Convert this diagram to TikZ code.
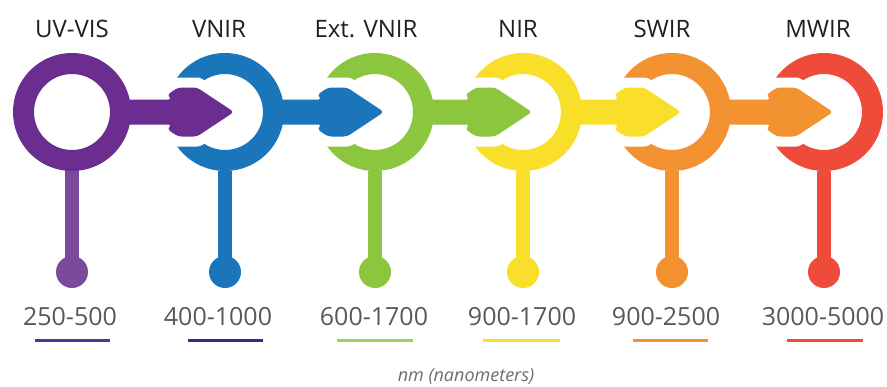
\documentclass[tikz,border=0pt]{standalone}
\usepackage{fontspec}
\setmainfont{Open Sans}
\usetikzlibrary{calc}
\definecolor{cpurple}{HTML}{6B2D8F}
\definecolor{cpurplel}{HTML}{7C4A9D}
\definecolor{cblue}{HTML}{1B75BB}
\definecolor{cgreen}{HTML}{8CC63F}
\definecolor{cyellow}{HTML}{F9DF2A}
\definecolor{corange}{HTML}{F39231}
\definecolor{cred}{HTML}{EE4B3B}
\definecolor{cnavy}{HTML}{2E3088}
\definecolor{cindigo}{HTML}{3E3D9C}
\definecolor{ctext}{HTML}{231F20}
\definecolor{cgray}{HTML}{58595B}
\definecolor{cgraytwo}{HTML}{6D6E71}
\begin{document}
\begin{tikzpicture}[x=1pt,y=-1pt,
  ring/.style={circle, draw=#1, line width=21pt, minimum size=97pt, inner sep=0pt},
  stem/.style={draw=#1, line width=14pt},
  ball/.style={circle, fill=#1, minimum size=32pt, inner sep=0pt},
  lbl/.style={anchor=base, text=ctext, font=\fontsize{24}{28}\selectfont},
  rng/.style={anchor=base, text=cgray, font=\fontsize{25}{30}\selectfont},
  uline/.style={draw=#1, line width=3pt},
  headgap/.style={fill=white, draw=white, line width=20pt, line join=round},
  arrowbody/.style={fill=#1, rounded corners=3.5pt}]
\useasboundingbox (0,0) rectangle (887,386);
\fill[white] (0,0) rectangle (887,386);

% circles
\node[ring=cpurple] (c1) at (72,112) {};
\node[ring=cblue]   (c2) at (225,112) {};
\node[ring=cgreen]  (c3) at (375,112) {};
\node[ring=cyellow] (c4) at (523,112) {};
\node[ring=corange] (c5) at (672,112) {};
\node[ring=cred]    (c6) at (824,112) {};

% balls
\node[ball=cpurplel] (b1) at (72,272) {};
\node[ball=cblue]    (b2) at (225,272) {};
\node[ball=cgreen]   (b3) at (375,272) {};
\node[ball=cyellow]  (b4) at (523,272) {};
\node[ball=corange]  (b5) at (672,272) {};
\node[ball=cred]     (b6) at (824,272) {};

% stems
\draw[stem=cpurplel] (c1.south) -- (b1.center);
\draw[stem=cblue]    (c2.south) -- (b2.center);
\draw[stem=cgreen]   (c3.south) -- (b3.center);
\draw[stem=cyellow]  (c4.south) -- (b4.center);
\draw[stem=corange]  (c5.south) -- (b5.center);
\draw[stem=cred]     (c6.south) -- (b6.center);
\fill[cpurple] (c1.center) ++(-7,47) rectangle ++(14,12);

% arrows
\foreach \a/\b/\col in {c1/c2/cpurple, c2/c3/cblue, c3/c4/cgreen, c4/c5/cyellow, c5/c6/corange}{
  \path[headgap] ($(\b.center)+(-53,-12.5)$) -- ($(\b.center)+(-58,-17)$) -- ($(\b.center)+(-47,-24.5)$) -- ($(\b.center)+(-28,-24.5)$)
     -- ($(\b.center)+(9,0)$) -- ($(\b.center)+(-28,24.5)$) -- ($(\b.center)+(-47,24.5)$) -- ($(\b.center)+(-58,17)$)
     -- ($(\b.center)+(-53,12.5)$) -- cycle;
  \path[arrowbody=\col] ($(\a.center)+(40,-12.5)$) -- ($(\b.center)+(-53,-12.5)$) -- ($(\b.center)+(-58,-17)$) -- ($(\b.center)+(-47,-24.5)$) -- ($(\b.center)+(-28,-24.5)$)
     -- ($(\b.center)+(9,0)$) -- ($(\b.center)+(-28,24.5)$) -- ($(\b.center)+(-47,24.5)$) -- ($(\b.center)+(-58,17)$)
     -- ($(\b.center)+(-53,12.5)$) -- ($(\a.center)+(40,12.5)$) -- cycle;
}

% top labels
\node[lbl] (l1) at (72,37)  {UV-VIS};
\node[lbl] (l2) at (219,37) {VNIR};
\node[lbl] (l3) at (366,37) {Ext. VNIR};
\node[lbl] (l4) at (518,37) {NIR};
\node[lbl] (l5) at (662,37) {SWIR};
\node[lbl] (l6) at (818,37) {MWIR};

% ranges
\node[rng] (r1) at (70,325)  {250-500};
\node[rng] (r2) at (218,325) {400-1000};
\node[rng] (r3) at (374,325) {600-1700};
\node[rng] (r4) at (522,325) {900-1700};
\node[rng] (r5) at (666,325) {900-2500};
\node[rng] (r6) at (823,325) {3000-5000};

% underlines
\draw[uline=cindigo] (35,340) -- (110,340);
\draw[uline=cnavy]   (188,340) -- (263,340);
\draw[uline=cgreen!85!white] (337,340) -- (413,340);
\draw[uline=cyellow] (483,340) -- (560,340);
\draw[uline=corange] (633,340) -- (708,340);
\draw[uline=cred]    (787,340) -- (863,340);

\node[anchor=base, text=cgraytwo, font=\fontsize{18}{22}\selectfont\itshape] (nm) at (466,381) {nm (nanometers)};
\end{tikzpicture}
\end{document}
